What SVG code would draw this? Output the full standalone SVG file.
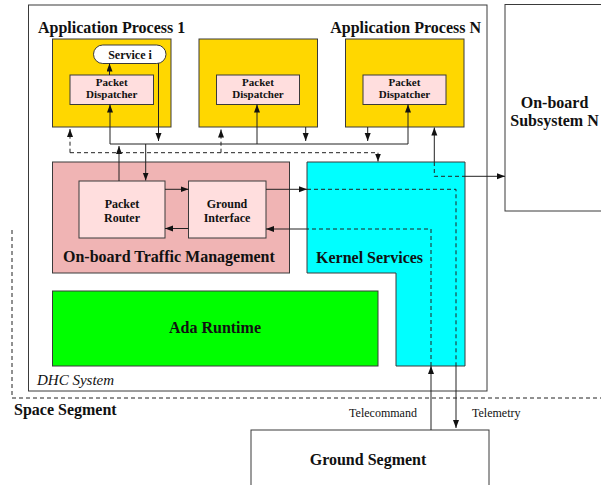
<svg xmlns="http://www.w3.org/2000/svg" width="601" height="485" viewBox="0 0 601 485">
<defs>
<marker id="ah" markerUnits="userSpaceOnUse" markerWidth="9" markerHeight="7" refX="8" refY="3" orient="auto">
<path d="M0,0 L8,3 L0,6 z" fill="#111"/>
</marker>
<style>
.box{stroke:#3a3a3a;stroke-width:1}
.t{font-family:"Liberation Serif","Times New Roman",serif;font-weight:bold;fill:#111}
.big{font-size:16px}
.sm{font-size:12px}
.pd{font-size:11px}
.c{text-anchor:middle}
.ln{fill:none;stroke:#222;stroke-width:1}
.ds{fill:none;stroke:#222;stroke-width:1;stroke-dasharray:4,3}
.ar{marker-end:url(#ah)}
</style>
</defs>
<rect width="601" height="485" fill="#fff"/>

<g id="space-segment">
<polyline class="ds" points="12,230 12,398 601,398"/>
<text class="t big" x="14" y="415">Space Segment</text>
</g>

<g id="dhc-system">
<rect class="box" x="28.5" y="5" width="458.5" height="386" fill="#fff"/>
<text x="37" y="385" style="font-family:'Liberation Serif','Times New Roman',serif;font-style:italic;font-size:15px;fill:#111">DHC System</text>
</g>

<g id="onboard-subsystem-n">
<rect class="box" x="505" y="4.5" width="110" height="206.5" fill="#fff"/>
<text class="t big c" x="554.5" y="108">On-board</text>
<text class="t big c" x="554.5" y="126">Subsystem N</text>
</g>

<g id="ground-segment">
<rect class="box" x="251" y="430" width="238" height="70" fill="#fff"/>
<text class="t big c" x="368" y="465">Ground Segment</text>
</g>

<g id="app-process-1">
<text class="t big" x="38" y="33">Application Process 1</text>
<rect class="box" x="52.5" y="39" width="118.5" height="88" fill="#FFD700"/>
<g id="service-i">
<rect class="box" x="93.5" y="45" width="72.5" height="18.5" rx="9.25" fill="#fff"/>
<text class="t sm c" x="130" y="58.5">Service i</text>
</g>
<g id="pd-1">
<rect class="box" x="70" y="75" width="83.5" height="29.5" fill="#FFDEDE"/>
<text class="t pd c" x="111.7" y="86.3">Packet</text>
<text class="t pd c" x="111.7" y="98">Dispatcher</text>
</g>
</g>

<g id="app-process-2">
<rect class="box" x="199" y="39" width="118.5" height="88" fill="#FFD700"/>
<g id="pd-2">
<rect class="box" x="216.5" y="75" width="83" height="29.5" fill="#FFDEDE"/>
<text class="t pd c" x="258" y="86.3">Packet</text>
<text class="t pd c" x="258" y="98">Dispatcher</text>
</g>
</g>

<g id="app-process-n">
<text class="t big" x="481" y="33" text-anchor="end">Application Process N</text>
<rect class="box" x="345.5" y="39" width="118.5" height="88" fill="#FFD700"/>
<g id="pd-n">
<rect class="box" x="363" y="75" width="83" height="29.5" fill="#FFDEDE"/>
<text class="t pd c" x="404.5" y="86.3">Packet</text>
<text class="t pd c" x="404.5" y="98">Dispatcher</text>
</g>
</g>

<g id="onboard-traffic-management">
<rect class="box" x="52.5" y="162" width="237" height="111" fill="#F0B4B4"/>
<text class="t big" x="63" y="262">On-board Traffic Management</text>
<g id="packet-router">
<rect class="box" x="79" y="181" width="86" height="57" fill="#FFDEDE"/>
<text class="t sm c" x="122" y="208">Packet</text>
<text class="t sm c" x="122" y="222">Router</text>
</g>
<g id="ground-interface">
<rect class="box" x="188.5" y="181" width="77.5" height="57" fill="#FFDEDE"/>
<text class="t sm c" x="227" y="208">Ground</text>
<text class="t sm c" x="227" y="222">Interface</text>
</g>
</g>

<g id="kernel-services">
<polygon class="box" points="307,162 465,162 465,366 396,366 396,273 307,273" fill="#00FFFF"/>
<text class="t big" x="316" y="263">Kernel Services</text>
</g>

<g id="ada-runtime">
<rect class="box" x="52.5" y="291" width="325.5" height="75" fill="#00FF00"/>
<text class="t big c" x="215" y="333">Ada Runtime</text>
</g>

<g id="connectors">
<line class="ln ar" x1="109.5" y1="75" x2="109.5" y2="63.5"/>
<line class="ln ar" x1="158.5" y1="63.3" x2="158.5" y2="141"/>
<polyline class="ln" points="110,144 408,144"/>
<line class="ln ar" x1="110" y1="144" x2="110" y2="104.5"/>
<line class="ln ar" x1="257" y1="144" x2="257" y2="104.5"/>
<line class="ln ar" x1="408" y1="144" x2="408" y2="104.5"/>
<line class="ln ar" x1="119" y1="181" x2="119" y2="146"/>
<line class="ln ar" x1="145.7" y1="144" x2="145.7" y2="180.5"/>
<line class="ln ar" x1="305.7" y1="127" x2="305.7" y2="141"/>
<line class="ln ar" x1="367.7" y1="127" x2="367.7" y2="141"/>
<polyline class="ds" points="70,152.7 378,152.7"/>
<line class="ds ar" x1="70" y1="152.7" x2="70" y2="129"/>
<line class="ds ar" x1="221" y1="152.7" x2="221" y2="129.5"/>
<line class="ds ar" x1="378" y1="152.7" x2="378" y2="161.5"/>
<line class="ln ar" x1="165" y1="189.3" x2="188.5" y2="189.3"/>
<line class="ln ar" x1="188.5" y1="228.5" x2="165" y2="228.5"/>
<line class="ln ar" x1="266" y1="189.3" x2="307" y2="189.3"/>
<polyline class="ds" points="307,189.3 456,189.3 456,366"/>
<line class="ln ar" x1="456" y1="366" x2="456" y2="428"/>
<line class="ln ar" x1="431" y1="430" x2="431" y2="366"/>
<polyline class="ds" points="431,366 431,229 307,229"/>
<line class="ln ar" x1="307" y1="229" x2="266" y2="229"/>
<line class="ln ar" x1="434.3" y1="162" x2="434.3" y2="127.5"/>
<polyline class="ds" points="434.3,162 434.3,176.3 465,176.3"/>
<line class="ln ar" x1="465" y1="176.3" x2="505" y2="176.3"/>
<text x="383" y="417" text-anchor="middle" style="font-family:'Liberation Serif','Times New Roman',serif;font-size:12px;fill:#111">Telecommand</text>
<text x="472" y="417" style="font-family:'Liberation Serif','Times New Roman',serif;font-size:12px;fill:#111">Telemetry</text>
</g>
</svg>
